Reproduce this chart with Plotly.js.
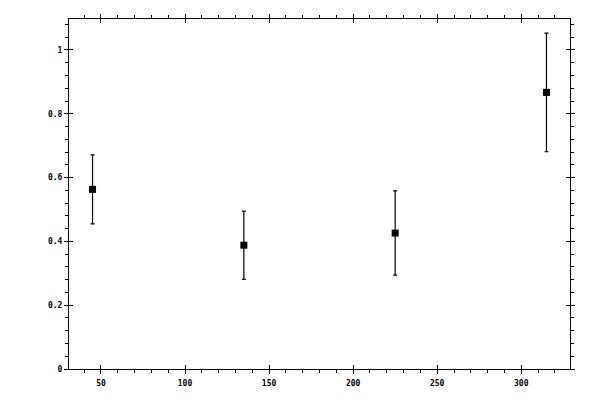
<!DOCTYPE html>
<html>
<head>
<meta charset="utf-8">
<script src="https://cdn.plot.ly/plotly-3.0.1.min.js"></script>
<style>html,body{margin:0;padding:0;background:#fff;}#chart{width:600px;height:400px;}</style>
</head>
<body>
<div id="chart"></div>
<script>
var angles = [45, 135, 225, 315];
var values = [0.563, 0.388, 0.426, 0.867];
var errors = [0.108, 0.107, 0.132, 0.186];

var traces = [
  {
    x: angles, y: values, type: 'scatter', mode: 'markers',
    marker: {symbol: 'square', size: 7, color: 'black'},
    error_y: {type: 'data', array: errors, visible: true, color: 'black', thickness: 1.2, width: 2},
    showlegend: false, hoverinfo: 'none'
  },
  {x: [], y: [], xaxis: 'x2', yaxis: 'y2', type: 'scatter', mode: 'markers', showlegend: false}
];

var tickFont = {family: 'DejaVu Sans Mono', size: 8, color: 'black', weight: 'bold'};
var common = {showline: true, linecolor: 'black', linewidth: 1, showgrid: false, zeroline: false,
  tickcolor: 'black', tickwidth: 1, tickfont: tickFont, fixedrange: true};

var layout = {
  width: 600, height: 400,
  margin: {l: 69, r: 30, t: 19, b: 31},
  paper_bgcolor: 'white', plot_bgcolor: 'white',
  xaxis: Object.assign({}, common, {
    range: [31, 329], tick0: 0, dtick: 50, ticks: 'outside', ticklen: 4, mirror: 'allticks',
    ticklabelstandoff: 2,
    minor: {ticks: 'outside', ticklen: 3, dtick: 10, tick0: 0, tickcolor: 'black', tickwidth: 1}
  }),
  yaxis: Object.assign({}, common, {
    range: [0, 1.097], tick0: 0, dtick: 0.2, ticks: 'outside', ticklen: 4, mirror: 'allticks',
    minor: {ticks: 'outside', ticklen: 3, dtick: 0.04, tick0: 0, tickcolor: 'black', tickwidth: 1}
  }),
  xaxis2: Object.assign({}, common, {
    overlaying: 'x', range: [31, 329], tick0: 0, dtick: 50, ticks: 'inside', ticklen: 4,
    mirror: 'allticks', showticklabels: false, showline: false
  }),
  yaxis2: Object.assign({}, common, {
    overlaying: 'y', range: [0, 1.097], tick0: 0, dtick: 0.2, ticks: 'inside', ticklen: 4,
    mirror: 'allticks', showticklabels: false, showline: false
  })
};

Plotly.newPlot('chart', traces, layout, {displayModeBar: false, staticPlot: true});
</script>
</body>
</html>
